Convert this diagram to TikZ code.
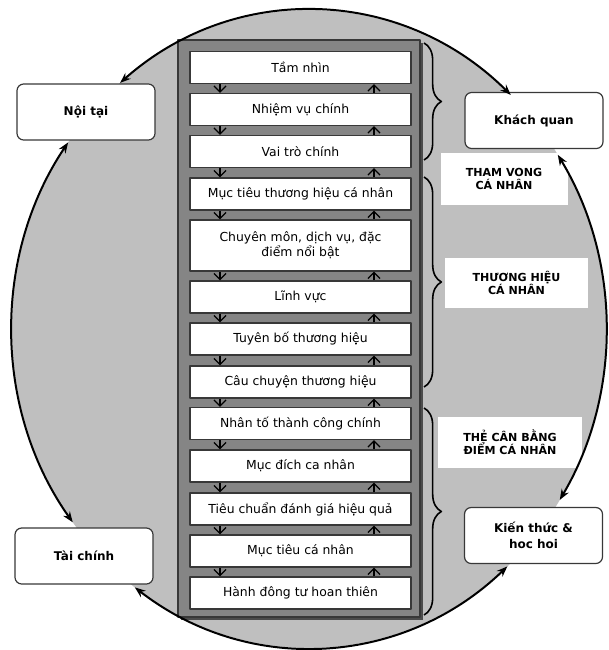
\documentclass[tikz,border=0pt]{standalone}
\usepackage{fontspec}
\setmainfont{DejaVu Sans}
\usetikzlibrary{arrows.meta,decorations.pathreplacing,calc}
\definecolor{discgray}{gray}{0.75}
\definecolor{framegray}{gray}{0.52}
\definecolor{edgegray}{gray}{0.22}
\tikzset{
  stage/.style={draw=edgegray, line width=1.1pt, fill=white,
    minimum width=165.75pt, minimum height=24pt, inner sep=1pt,
    align=center, font=\fontsize{9.3}{11}\selectfont},
  side/.style={draw=edgegray, line width=0.9pt, fill=white, rounded corners=5pt,
    minimum width=103.5pt, minimum height=42pt, inner sep=1pt,
    align=center, font=\bfseries\fontsize{9}{12}\selectfont},
  tag/.style={fill=white, inner sep=0pt, align=center,
    font=\bfseries\fontsize{8.3}{10}\selectfont},
  cycleline/.style={line width=1.5pt,
    {Stealth[length=8pt,width=6pt]}-{Stealth[length=8pt,width=6pt]}},
  flowdown/.style={line width=0.9pt, -{Straight Barb[length=4.5pt,width=9pt]}},
  flowup/.style={line width=0.9pt, -{Straight Barb[length=4.5pt,width=9pt]}},
  groupbrace/.style={decorate, decoration={brace, amplitude=13pt}, line width=1.2pt}
}

\begin{document}
\begin{tikzpicture}[x=0.75pt, y=-0.75pt, line join=round]
  \useasboundingbox (0,0) rectangle (609,650);

  % background disc
  \coordinate (O) at (309,329);
  \fill[discgray] (O) ellipse [x radius=297, y radius=319];

  % central column
  \fill[black!70] (181,43) rectangle (423,620);
  \draw[fill=framegray, draw=edgegray, line width=1.5pt] (178,40) rectangle (420,617);

  % steps, top to bottom
  \node[stage] (s1)  at (300.5,67.5)  {Tầm nhìn};
  \node[stage] (s2)  at (300.5,109.5) {Nhiệm vụ chính};
  \node[stage] (s3)  at (300.5,151.5) {Vai trò chính};
  \node[stage] (s4)  at (300.5,194)   {Mục tiêu thương hiệu cá nhân};
  \node[stage, minimum height=38.25pt] (s5) at (300.5,245.5)
    {Chuyên môn, dịch vụ, đặc\\điểm nổi bật};
  \node[stage] (s6)  at (300.5,297)   {Lĩnh vực};
  \node[stage] (s7)  at (300.5,339)   {Tuyên bố thương hiệu};
  \node[stage] (s8)  at (300.5,382)   {Câu chuyện thương hiệu};
  \node[stage] (s9)  at (300.5,423.5) {Nhân tố thành công chính};
  \node[stage] (s10) at (300.5,466)   {Mục đích ca nhân};
  \node[stage] (s11) at (300.5,509)   {Tiêu chuẩn đánh giá hiệu quả};
  \node[stage] (s12) at (300.5,551)   {Mục tiêu cá nhân};
  \node[stage] (s13) at (300.5,593)   {Hành đông tư hoan thiên};

  % arrows between steps
  \coordinate (dn) at (220,0);
  \coordinate (up) at (374,0);
  \foreach \i [evaluate=\i as \j using int(\i+1)] in {1,...,12}{
    \draw[flowdown] (s\i.south -| dn) -- (s\j.north -| dn);
    \draw[flowup] (s\j.north -| up) -- (s\i.south -| up);
  }

  % braces on the right
  \draw[groupbrace] (424,43) -- (424,160);
  \draw[groupbrace] (424,177) -- (424,387);
  \draw[groupbrace] (424,408) -- (424,615);

  % group labels
  \node[tag, minimum width=95.25pt, minimum height=39pt] (amb) at (504,179)
    {THAM VONG\\CÁ NHÂN};
  \node[tag, minimum width=107.25pt, minimum height=37.5pt] (brand) at (516.5,283)
    {THƯƠNG HIỆU\\CÁ NHÂN};
  \node[tag, minimum width=108pt, minimum height=38.25pt] (card) at (510,442.5)
    {THẺ CÂN BẰNG\\ĐIỂM CÁ NHÂN};

  % perspectives
  \node[side] (inner) at (86,112)    {Nội tại};
  \node[side] (objective) at (534,120.5) {Khách quan};
  \node[side] (finance) at (84,556)  {Tài chính};
  \node[side] (learning) at (533.5,535.5) {Kiến thức \&\\hoc hoi};

  % cycle around the disc
  \draw[cycleline] ($(O)+(230.5:297 and 319)$)
    arc[start angle=230.5, end angle=312.8, x radius=297, y radius=319];
  \draw[cycleline] ($(O)+(-33.1:297 and 319)$)
    arc[start angle=-33.1, end angle=32.4, x radius=297, y radius=319];
  \draw[cycleline] ($(O)+(48.1:297 and 319)$)
    arc[start angle=48.1, end angle=125.9, x radius=297, y radius=319];
  \draw[cycleline] ($(O)+(142.7:297 and 319)$)
    arc[start angle=142.7, end angle=215.8, x radius=297, y radius=319];
\end{tikzpicture}
\end{document}
